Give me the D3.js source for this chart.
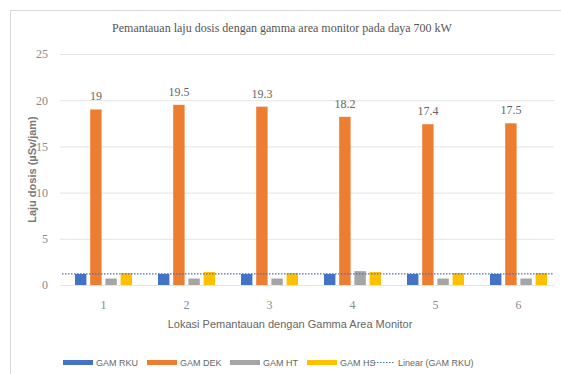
<!DOCTYPE html>
<html lang="en">
<head>
    <meta charset="UTF-8">
    <title>Pemantauan laju dosis</title>
    <script src="https://d3js.org/d3.v7.min.js"></script>
    <style>
        body { margin: 0; background: #fff; }
    </style>
</head>
<body>
    <div id="chart"></div>
    <script>
        var lokasi = ["1", "2", "3", "4", "5", "6"];
        var series = ["GAM RKU", "GAM DEK", "GAM HT", "GAM HS"];
        var gamRKU = [1.2, 1.2, 1.2, 1.2, 1.2, 1.2];
        var gamDEK = [19, 19.5, 19.3, 18.2, 17.4, 17.5];
        var gamHT = [0.7, 0.7, 0.7, 1.5, 0.7, 0.7];
        var gamHS = [1.3, 1.4, 1.3, 1.4, 1.3, 1.3];
        var yTicks = [0, 5, 10, 15, 20, 25];
        var colors = ["#4472c4", "#ed7d31", "#a5a5a5", "#ffc000"];

        var W = 561, H = 374;
        var margin = { top: 54, right: 1, bottom: 89, left: 62 };
        var width = W - margin.left - margin.right;
        var height = H - margin.top - margin.bottom;

        var root = d3.select("#chart").append("svg")
            .attr("width", W)
            .attr("height", H);

        // outer chart border
        root.append("rect")
            .attr("x", 10.5).attr("y", 10.5)
            .attr("width", W).attr("height", H)
            .attr("fill", "none")
            .attr("stroke", "#d9d9d9");

        var svg = root.append("g")
            .attr("transform", "translate(" + margin.left + "," + margin.top + ")");

        var x = d3.scaleBand().domain(lokasi).range([0, width]);
        var y = d3.scaleLinear().domain([0, 25]).range([height, 0]);

        // gridlines
        svg.append("g")
            .selectAll("line").data(yTicks).enter().append("line")
            .attr("x1", -2).attr("x2", width - 6)
            .attr("y1", function (d) { return y(d) + 0.5; })
            .attr("y2", function (d) { return y(d) + 0.5; })
            .attr("stroke", "#e4e4e4");

        var yAxis = svg.append("g")
            .call(d3.axisLeft(y).tickValues(yTicks).tickSize(0).tickPadding(14));
        yAxis.select(".domain").remove();
        yAxis.selectAll("text")
            .style("font-family", "Liberation Serif, serif")
            .style("font-size", "12px")
            .attr("fill", "#8a8a8a");

        var xAxis = svg.append("g")
            .attr("transform", "translate(0," + height + ")")
            .call(d3.axisBottom(x).tickSize(0).tickPadding(15));
        xAxis.select(".domain").remove();
        xAxis.selectAll("text")
            .style("font-family", "Liberation Serif, serif")
            .style("font-size", "12px")
            .attr("fill", "#8a8a8a");

        var data = lokasi.map(function (l, i) {
            return { lokasi: l, values: [gamRKU[i], gamDEK[i], gamHT[i], gamHS[i]] };
        });

        var inner = d3.scaleBand().domain(series).range([13, 70]).paddingInner(0.25);

        var groups = svg.selectAll(".grp").data(data).enter().append("g")
            .attr("transform", function (d) { return "translate(" + x(d.lokasi) + ",0)"; });

        groups.selectAll("rect")
            .data(function (d) { return d.values.map(function (v, j) { return { s: series[j], v: v, c: colors[j] }; }); })
            .enter().append("rect")
            .attr("x", function (d) { return inner(d.s); })
            .attr("width", inner.bandwidth())
            .attr("y", function (d) { return y(d.v); })
            .attr("height", function (d) { return y(0) - y(d.v); })
            .attr("fill", function (d) { return d.c; });

        // data labels for GAM DEK
        groups.append("text")
            .attr("x", function () { return inner("GAM DEK") + inner.bandwidth() / 2; })
            .attr("y", function (d) { return y(d.values[1]) - 9; })
            .attr("text-anchor", "middle")
            .style("font-family", "Liberation Serif, serif")
            .style("font-size", "12px")
            .attr("fill", "#666")
            .text(function (d) { return d.values[1]; });

        // linear trendline (GAM RKU)
        var n = gamRKU.length;
        var xs = d3.range(1, n + 1);
        var mx = d3.mean(xs), my = d3.mean(gamRKU);
        var slope = d3.sum(xs, function (v, i) { return (v - mx) * (gamRKU[i] - my); }) /
            d3.sum(xs, function (v) { return (v - mx) * (v - mx); });
        var icpt = my - slope * mx;
        svg.append("line")
            .attr("x1", 0).attr("x2", width - 6)
            .attr("y1", y(icpt + slope * 0.5))
            .attr("y2", y(icpt + slope * (n + 0.5)))
            .attr("stroke", "#4472c4")
            .attr("stroke-width", 1.3)
            .attr("stroke-dasharray", "1.5,1.5");

        // title
        root.append("text")
            .attr("x", 282).attr("y", 32)
            .attr("text-anchor", "middle")
            .style("font-family", "Liberation Serif, serif")
            .style("font-size", "12px")
            .attr("fill", "#555")
            .text("Pemantauan laju dosis dengan gamma area monitor pada daya  700 kW");

        // axis titles
        root.append("text")
            .attr("transform", "translate(36," + (margin.top + height / 2) + ") rotate(-90)")
            .attr("text-anchor", "middle")
            .style("font-family", "Liberation Sans, sans-serif")
            .style("font-size", "11px")
            .style("font-weight", "bold")
            .attr("fill", "#7a7a7a")
            .text("Laju dosis (µSv/jam)");

        root.append("text")
            .attr("x", 290).attr("y", 328)
            .attr("text-anchor", "middle")
            .style("font-family", "Liberation Sans, sans-serif")
            .style("font-size", "11px")
            .attr("fill", "#666")
            .text("Lokasi Pemantauan dengan Gamma Area Monitor");

        // legend
        var legendItems = [
            { label: "GAM RKU", x: 63, c: colors[0] },
            { label: "GAM DEK", x: 147, c: colors[1] },
            { label: "GAM HT", x: 230, c: colors[2] },
            { label: "GAM HS", x: 307, c: colors[3] },
            { label: "Linear (GAM RKU)", x: 374, c: colors[0], dotted: true }
        ];
        var leg = root.append("g").selectAll("g").data(legendItems).enter().append("g")
            .attr("transform", function (d) { return "translate(" + d.x + ",360)"; });
        leg.filter(function (d) { return !d.dotted; }).append("rect")
            .attr("width", 30).attr("height", 5)
            .attr("fill", function (d) { return d.c; });
        leg.filter(function (d) { return d.dotted; }).append("line")
            .attr("x1", 0).attr("x2", 20).attr("y1", 2.5).attr("y2", 2.5)
            .attr("stroke", function (d) { return d.c; })
            .attr("stroke-width", 1.2)
            .attr("stroke-dasharray", "1.5,1.5");
        leg.append("text")
            .attr("x", function (d) { return d.dotted ? 24 : 33; })
            .attr("y", 6)
            .style("font-family", "Liberation Sans, sans-serif")
            .style("font-size", "9px")
            .attr("fill", "#666")
            .text(function (d) { return d.label; });
    </script>
</body>
</html>
